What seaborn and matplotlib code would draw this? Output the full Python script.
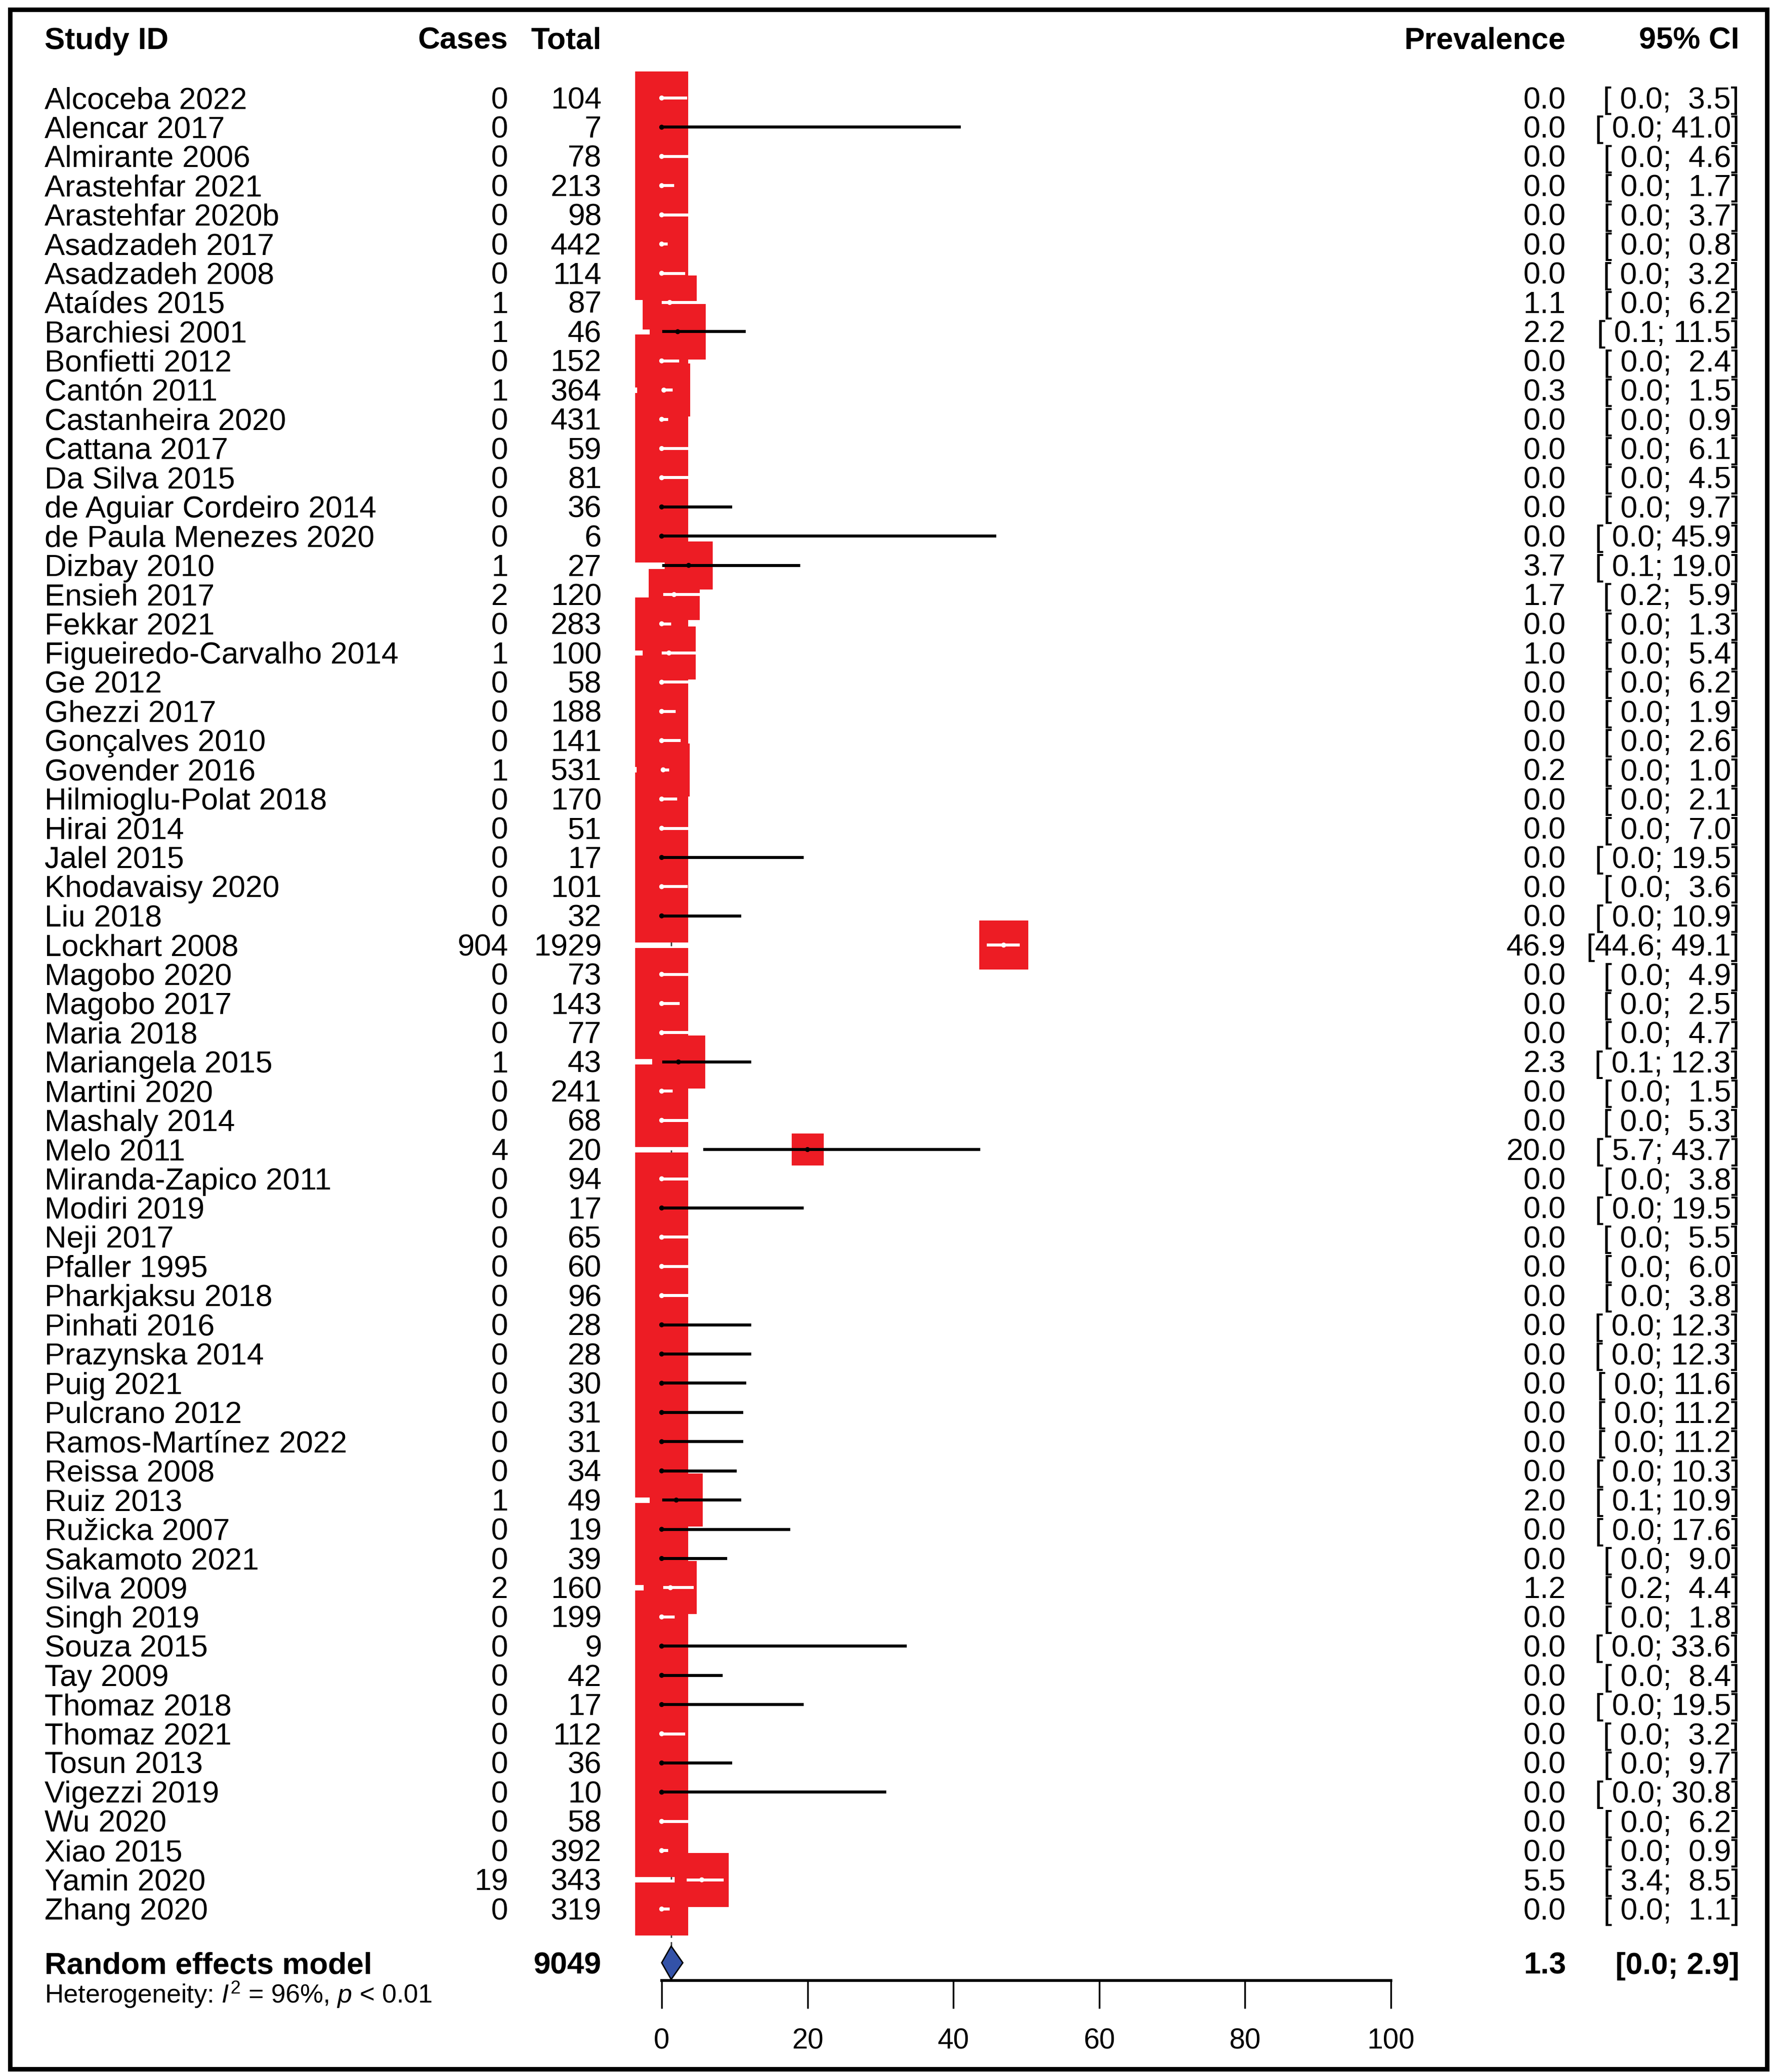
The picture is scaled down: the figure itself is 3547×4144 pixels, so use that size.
import numpy as np
import matplotlib
matplotlib.use("Agg")
import matplotlib.pyplot as plt
import matplotlib.transforms as mtransforms
from matplotlib.patches import Rectangle
import seaborn as sns

# study level data
studies = [
    "Alcoceba 2022", "Alencar 2017", "Almirante 2006", "Arastehfar 2021",
    "Arastehfar 2020b", "Asadzadeh 2017", "Asadzadeh 2008", "Ataídes 2015",
    "Barchiesi 2001", "Bonfietti 2012", "Cantón 2011", "Castanheira 2020",
    "Cattana 2017", "Da Silva 2015", "de Aguiar Cordeiro 2014",
    "de Paula Menezes 2020", "Dizbay 2010", "Ensieh 2017", "Fekkar 2021",
    "Figueiredo-Carvalho 2014", "Ge 2012", "Ghezzi 2017", "Gonçalves 2010",
    "Govender 2016", "Hilmioglu-Polat 2018", "Hirai 2014", "Jalel 2015",
    "Khodavaisy 2020", "Liu 2018", "Lockhart 2008", "Magobo 2020",
    "Magobo 2017", "Maria 2018", "Mariangela 2015", "Martini 2020",
    "Mashaly 2014", "Melo 2011", "Miranda-Zapico 2011", "Modiri 2019",
    "Neji 2017", "Pfaller 1995", "Pharkjaksu 2018", "Pinhati 2016",
    "Prazynska 2014", "Puig 2021", "Pulcrano 2012", "Ramos-Martínez 2022",
    "Reissa 2008", "Ruiz 2013", "Ružicka 2007", "Sakamoto 2021",
    "Silva 2009", "Singh 2019", "Souza 2015", "Tay 2009", "Thomaz 2018",
    "Thomaz 2021", "Tosun 2013", "Vigezzi 2019", "Wu 2020", "Xiao 2015",
    "Yamin 2020", "Zhang 2020",
]
cases = [0, 0, 0, 0, 0, 0, 0, 1, 1, 0, 1, 0, 0, 0, 0, 0, 1, 2, 0, 1, 0, 0,
         0, 1, 0, 0, 0, 0, 0, 904, 0, 0, 0, 1, 0, 0, 4, 0, 0, 0, 0, 0, 0, 0,
         0, 0, 0, 0, 1, 0, 0, 2, 0, 0, 0, 0, 0, 0, 0, 0, 0, 19, 0]
totals = [104, 7, 78, 213, 98, 442, 114, 87, 46, 152, 364, 431, 59, 81, 36,
          6, 27, 120, 283, 100, 58, 188, 141, 531, 170, 51, 17, 101, 32, 1929,
          73, 143, 77, 43, 241, 68, 20, 94, 17, 65, 60, 96, 28, 28, 30, 31,
          31, 34, 49, 19, 39, 160, 199, 9, 42, 17, 112, 36, 10, 58, 392, 343,
          319]
prevalence = [0.0, 0.0, 0.0, 0.0, 0.0, 0.0, 0.0, 1.1, 2.2, 0.0, 0.3, 0.0,
              0.0, 0.0, 0.0, 0.0, 3.7, 1.7, 0.0, 1.0, 0.0, 0.0, 0.0, 0.2,
              0.0, 0.0, 0.0, 0.0, 0.0, 46.9, 0.0, 0.0, 0.0, 2.3, 0.0, 0.0,
              20.0, 0.0, 0.0, 0.0, 0.0, 0.0, 0.0, 0.0, 0.0, 0.0, 0.0, 0.0,
              2.0, 0.0, 0.0, 1.2, 0.0, 0.0, 0.0, 0.0, 0.0, 0.0, 0.0, 0.0,
              0.0, 5.5, 0.0]
ci_lower = [0.0, 0.0, 0.0, 0.0, 0.0, 0.0, 0.0, 0.0, 0.1, 0.0, 0.0, 0.0,
            0.0, 0.0, 0.0, 0.0, 0.1, 0.2, 0.0, 0.0, 0.0, 0.0, 0.0, 0.0,
            0.0, 0.0, 0.0, 0.0, 0.0, 44.6, 0.0, 0.0, 0.0, 0.1, 0.0, 0.0,
            5.7, 0.0, 0.0, 0.0, 0.0, 0.0, 0.0, 0.0, 0.0, 0.0, 0.0, 0.0,
            0.1, 0.0, 0.0, 0.2, 0.0, 0.0, 0.0, 0.0, 0.0, 0.0, 0.0, 0.0,
            0.0, 3.4, 0.0]
ci_upper = [3.5, 41.0, 4.6, 1.7, 3.7, 0.8, 3.2, 6.2, 11.5, 2.4, 1.5, 0.9,
            6.1, 4.5, 9.7, 45.9, 19.0, 5.9, 1.3, 5.4, 6.2, 1.9, 2.6, 1.0,
            2.1, 7.0, 19.5, 3.6, 10.9, 49.1, 4.9, 2.5, 4.7, 12.3, 1.5, 5.3,
            43.7, 3.8, 19.5, 5.5, 6.0, 3.8, 12.3, 12.3, 11.6, 11.2, 11.2,
            10.3, 10.9, 17.6, 9.0, 4.4, 1.8, 33.6, 8.4, 19.5, 3.2, 9.7, 30.8,
            6.2, 0.9, 8.5, 1.1]
# random effects weights (%)
weights = [1.6] * len(studies)
weights[7] = 1.66    # Ataides
weights[8] = 1.79    # Barchiesi
weights[16] = 1.31   # Dizbay
weights[17] = 1.48   # Ensieh
weights[29] = 1.37   # Lockhart
weights[36] = 0.58   # Melo
weights[61] = 1.66   # Yamin

pooled_total = 9049
pooled_prev = 1.3
pooled_lower = 0.0
pooled_upper = 2.9
i2_text = "96%"
p_text = "0.01"
x_ticks = [0, 20, 40, 60, 80, 100]

# ---------------------------------------------------------------
W, H, DPI = 3548, 4144, 100
RED = "#ED1C24"
BLUE = "#3352A8"
FS = 44

sns.set_theme(style="white")
plt.rcParams["font.family"] = ["Liberation Sans", "DejaVu Sans"]
plt.rcParams["mathtext.fontset"] = "custom"
plt.rcParams["mathtext.rm"] = "Liberation Sans"
plt.rcParams["mathtext.it"] = "Liberation Sans:italic"

fig = plt.figure(figsize=(W / DPI, H / DPI), dpi=DPI)
fig.patch.set_facecolor("white")

# plot area: 0 -> x=1323px, 100 -> x=2781px, rows 58.42px apart
x0_px, x1_px = 1323, 2781
row0_px, row_px = 196, 58.42
axis_px = 3961
top_px = 21
ax = fig.add_axes([x0_px / W, (H - axis_px) / H,
                   (x1_px - x0_px) / W, (axis_px - top_px) / H])
ax.set_xlim(0, 100)
ax.set_ylim((axis_px - row0_px) / row_px, (top_px - row0_px) / row_px)
ax.set_facecolor("none")

n = len(studies)
rows = np.arange(n)
px_per_unit = (x1_px - x0_px) / 100.0
box_px = 106 * np.sqrt(np.array(weights) / 1.6)
box_w = box_px / px_per_unit
width_ci = np.array(ci_upper) - np.array(ci_lower)
line_colors = ["white" if wci < bw else "black" for wci, bw in zip(width_ci, box_w)]

model_row = n + 0.84

# dashed line at the pooled estimate
ax.vlines(pooled_prev, -0.5, model_row - 0.57, colors="0.25",
          linestyles=(0, (3, 3)), lw=2, zorder=1)

# study boxes
sns.scatterplot(x=prevalence, y=rows, s=(box_px * 72 / DPI) ** 2, marker="s",
                color=RED, linewidth=0, ax=ax, clip_on=False, zorder=2,
                legend=False)
# confidence intervals and point estimates
ax.hlines(rows, ci_lower, ci_upper, colors=line_colors, lw=4.3, zorder=3,
          clip_on=False)
ax.scatter(prevalence, rows, s=(10 * 72 / DPI) ** 2, c=line_colors,
           linewidths=0, zorder=4, clip_on=False)

# pooled diamond
ax.fill([pooled_lower, pooled_prev, pooled_upper, pooled_prev],
        [model_row, model_row - 0.57, model_row, model_row + 0.57],
        facecolor=BLUE, edgecolor="black", lw=2, zorder=3, clip_on=False)

# axis
for side in ["left", "right", "top"]:
    ax.spines[side].set_visible(False)
ax.spines["bottom"].set_color("black")
ax.spines["bottom"].set_linewidth(4)
ax.set_xticks(x_ticks)
ax.set_xticklabels([str(t) for t in x_ticks])
ax.set_yticks([])
ax.tick_params(axis="x", direction="out", length=40, width=2.5, pad=28,
               labelsize=41, colors="black", bottom=True)
ax.grid(False)

# text columns
trans = mtransforms.blended_transform_factory(fig.transFigure, ax.transData)
x_name, x_cases, x_total, x_prev, x_ci = 89, 1016, 1203, 3131, 3478
base = 0.36


def put(xpx, y, s, ha="left", bold=False, size=FS):
    ax.text(xpx / W, y, s, transform=trans, ha=ha, va="baseline",
            fontsize=size, fontweight="bold" if bold else "normal",
            color="black", clip_on=False)


hy = -1.68
put(x_name, hy, "Study ID", bold=True)
put(x_cases, hy, "Cases", ha="right", bold=True)
put(x_total, hy, "Total", ha="right", bold=True)
put(x_prev, hy, "Prevalence", ha="right", bold=True)
put(x_ci, hy, "95% CI", ha="right", bold=True)

for i in range(n):
    y = i + base
    put(x_name, y, studies[i])
    put(x_cases, y, str(cases[i]), ha="right")
    put(x_total, y, str(totals[i]), ha="right")
    put(x_prev, y, f"{prevalence[i]:.1f}", ha="right")
    put(x_ci, y, f"[{ci_lower[i]:4.1f}; {ci_upper[i]:4.1f}]", ha="right")

my = model_row + 0.38
put(x_name, my, "Random effects model", bold=True)
put(x_total, my, str(pooled_total), ha="right", bold=True)
put(x_prev, my, f"{pooled_prev:.1f}", ha="right", bold=True)
put(x_ci, my, f"[{pooled_lower:.1f}; {pooled_upper:.1f}]", ha="right", bold=True)
put(x_name, model_row + 1.37,
    r"Heterogeneity: $I^2$ = " + i2_text + r", $p$ < " + p_text, size=37.5)

# outer frame
fig.add_artist(Rectangle((20 / W, (H - 4138) / H), 3513 / W, 4119 / H,
                         transform=fig.transFigure, fill=False,
                         edgecolor="black", lw=6.5))

fig.savefig("out.png", dpi=DPI, facecolor="white")
